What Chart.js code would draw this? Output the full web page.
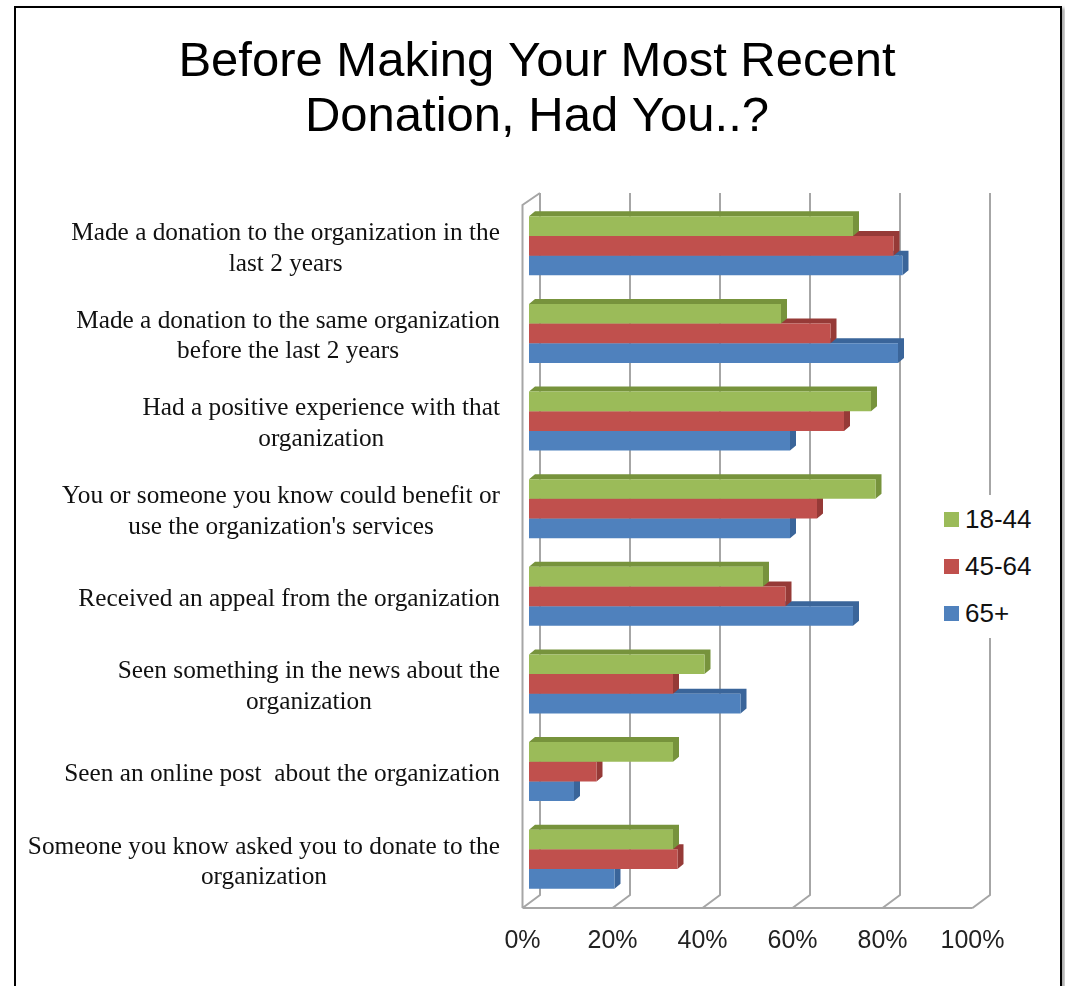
<!DOCTYPE html>
<html>
<head>
<meta charset="utf-8">
<title>Before Making Your Most Recent Donation</title>
<script src="https://cdn.jsdelivr.net/npm/chart.js@4.4.0/dist/chart.umd.min.js"></script>
<style>
    html, body { margin: 0; padding: 0; background: #fff; }
    #wrap { position: relative; width: 1065px; height: 986px; overflow: hidden; }
    #chart { position: absolute; left: 0; top: 0; }
    #frame {
        position: absolute; left: 14px; top: 6px; width: 1044px; height: 1010px;
        border: 2px solid #000; box-shadow: 3px 2px 3px #aaa; pointer-events: none;
    }
    #legend {
        position: absolute; left: 935px; top: 495px; width: 105px; height: 143px;
        background: #fff; font-family: "Liberation Sans", Arial, sans-serif;
        font-size: 26px; color: #111;
    }
    .legend-item { position: absolute; left: 9px; height: 30px; display: flex; align-items: center; }
    .legend-box { width: 15px; height: 15px; margin-right: 6px; }
</style>
</head>
<body>
<div id="wrap">
    <canvas id="chart" width="1065" height="986"></canvas>
    <div id="legend"></div>
    <div id="frame"></div>
</div>
<script>
// Data
const categories = [
    ['Made a donation to the organization in the', 'last 2 years'],
    ['Made a donation to the same organization', 'before the last 2 years'],
    ['Had a positive experience with that', 'organization'],
    ['You or someone you know could benefit or', "use the organization's services"],
    ['Received an appeal from the organization'],
    ['Seen something in the news about the', 'organization'],
    ['Seen an online post  about the organization'],
    ['Someone you know asked you to donate to the', 'organization']
];
const seriesNames = ['18-44', '45-64', '65+'];
const age18to44 = [72, 56, 76, 77, 52, 39, 32, 32];
const age45to64 = [81, 67, 70, 64, 57, 32, 15, 33];
const age65plus = [83, 82, 58, 58, 72, 47, 10, 19];
const xTicks = [0, 20, 40, 60, 80, 100];

const faceColors = ['#9BBB59', '#C0504D', '#4F81BD'];
const edgeColors = ['#77933C', '#963A37', '#3A659A'];

document.addEventListener('DOMContentLoaded', () => {
    const depthX = 6, depthY = 5;

    // Back wall, floor and left wall of the 3D plot
    const wallsPlugin = {
        id: 'walls',
        beforeDatasetsDraw(chart) {
            const ctx = chart.ctx;
            const xs = chart.scales.x;
            const { top, bottom } = chart.chartArea;
            ctx.save();
            ctx.strokeStyle = '#a6a6a6';
            ctx.lineWidth = 2;
            ctx.beginPath();
            xs.ticks.forEach(t => {
                const p = xs.getPixelForValue(t.value);
                ctx.moveTo(p + 11, top - 9);
                ctx.lineTo(p + 11, bottom - 8);
                ctx.lineTo(p - 6.5, bottom + 5);
            });
            const p0 = xs.getPixelForValue(0);
            const p100 = xs.getPixelForValue(100);
            ctx.moveTo(p0 - 6.5, bottom + 5);
            ctx.lineTo(p100 - 6.5, bottom + 5);
            ctx.moveTo(p0 - 6.5, bottom + 5);
            ctx.lineTo(p0 - 6.5, top + 3);
            ctx.lineTo(p0 + 11, top - 9);
            ctx.stroke();
            ctx.restore();
        }
    };

    // Top and side faces of each bar
    const bars3dPlugin = {
        id: 'bars3d',
        beforeDatasetDraw(chart, args) {
            const ctx = chart.ctx;
            const i = args.index;
            ctx.save();
            ctx.fillStyle = edgeColors[i];
            args.meta.data.forEach(bar => {
                const t = bar.y - bar.height / 2;
                const b = bar.y + bar.height / 2;
                ctx.beginPath();
                ctx.moveTo(bar.base, t);
                ctx.lineTo(bar.base + depthX, t - depthY);
                ctx.lineTo(bar.x + depthX, t - depthY);
                ctx.lineTo(bar.x + depthX, b - depthY);
                ctx.lineTo(bar.x, b);
                ctx.lineTo(bar.x, t);
                ctx.closePath();
                ctx.fill();
            });
            ctx.restore();
        }
    };

    // Category labels: each block right aligned, lines centred inside it
    const categoryLabelsPlugin = {
        id: 'categoryLabels',
        afterDraw(chart) {
            const ctx = chart.ctx;
            const ys = chart.scales.y;
            const lineH = 30.5;
            ctx.save();
            ctx.font = '25.3px "Liberation Serif", "Times New Roman", serif';
            ctx.fillStyle = '#111';
            ctx.textAlign = 'center';
            ctx.textBaseline = 'middle';
            categories.forEach((lines, i) => {
                const y = ys.getPixelForValue(i) + 3;
                const w = Math.max(...lines.map(l => ctx.measureText(l).width));
                const cx = 500 - w / 2;
                lines.forEach((line, j) => {
                    ctx.fillText(line, cx, y + (j - (lines.length - 1) / 2) * lineH);
                });
            });
            ctx.restore();
        }
    };

    const ctx = document.getElementById('chart').getContext('2d');
    const chart = new Chart(ctx, {
        type: 'bar',
        data: {
            labels: categories,
            datasets: [age18to44, age45to64, age65plus].map((values, i) => ({
                label: seriesNames[i],
                data: values,
                backgroundColor: faceColors[i],
                borderWidth: 0,
                categoryPercentage: 0.673,
                barPercentage: 1.0
            }))
        },
        options: {
            indexAxis: 'y',
            responsive: false,
            animation: false,
            layout: { padding: { left: 9, right: 0, top: 0, bottom: 0 } },
            plugins: {
                legend: { display: false },
                tooltip: { enabled: false },
                title: {
                    display: true,
                    text: ['Before Making Your Most Recent', 'Donation, Had You..?'],
                    color: '#000',
                    font: { family: '"Liberation Sans", Arial, sans-serif', size: 49, weight: 'normal', lineHeight: 55 / 49 },
                    padding: { top: 35, bottom: 57 }
                }
            },
            scales: {
                x: {
                    min: 0,
                    max: 100,
                    afterBuildTicks(scale) {
                        scale.ticks = xTicks.map(v => ({ value: v }));
                    },
                    afterFit(scale) { scale.height = 83; },
                    grid: { display: false, drawTicks: false },
                    border: { display: false },
                    ticks: {
                        padding: 23,
                        labelOffset: -6.5,
                        color: '#222',
                        font: { family: '"Liberation Sans", Arial, sans-serif', size: 25 },
                        callback: v => v + '%'
                    }
                },
                y: {
                    afterFit(scale) { scale.width = 520; },
                    grid: { display: false, drawTicks: false },
                    border: { display: false },
                    ticks: { display: false }
                },
                y2: {
                    type: 'category',
                    labels: [''],
                    position: 'right',
                    afterFit(scale) { scale.width = 86; },
                    grid: { display: false, drawTicks: false },
                    border: { display: false },
                    ticks: { display: false }
                }
            }
        },
        plugins: [wallsPlugin, bars3dPlugin, categoryLabelsPlugin]
    });

    // HTML legend built from the datasets
    const legend = document.getElementById('legend');
    chart.data.datasets.forEach((ds, i) => {
        const item = document.createElement('div');
        item.className = 'legend-item';
        item.style.top = (9 + i * 47) + 'px';
        item.innerHTML = `<span class="legend-box" style="background:${ds.backgroundColor}"></span>${ds.label}`;
        legend.appendChild(item);
    });
});
</script>
</body>
</html>
